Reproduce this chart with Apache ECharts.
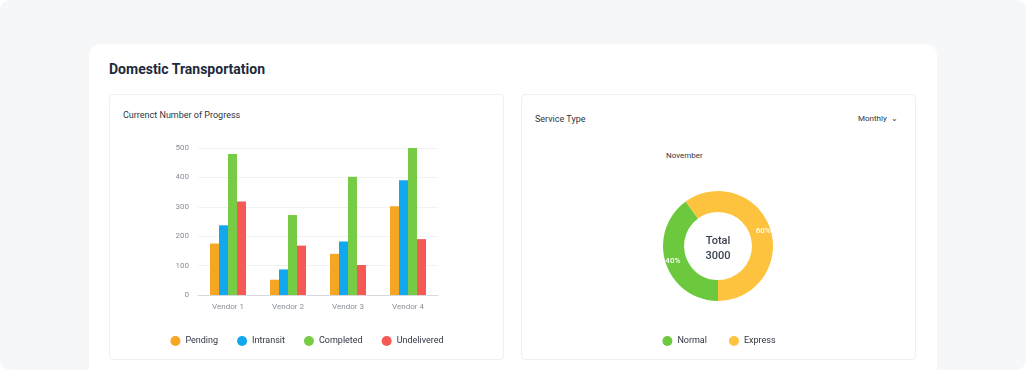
<!DOCTYPE html>
<html>
<head>
<meta charset="utf-8">
<script src="https://cdn.jsdelivr.net/npm/echarts@6/dist/echarts.min.js"></script>
<style>
  html,body{margin:0;padding:0;width:1026px;height:370px;overflow:hidden;background:#ffffff;font-family:Roboto,"Noto Sans",sans-serif;}
  #page{position:absolute;left:0;top:0;width:1026px;height:370px;background:#f6f7f9;border-radius:10px;}
  #card{position:absolute;left:89px;top:44px;width:848px;height:340px;background:#fff;border-radius:12px;}
  .panel{position:absolute;top:94px;width:395px;height:266px;background:#fff;border:1px solid #eef0f3;border-radius:4px;box-sizing:border-box;}
  .txt{position:absolute;white-space:nowrap;}
  #title{left:109px;top:61px;font-size:14px;font-weight:700;color:#1e2a3b;}
  #barTitle{left:123px;top:110px;font-size:9px;color:#2f3542;}
  #pieTitle{left:535px;top:114px;font-size:9px;color:#2f3542;}
  #monthly{left:858px;top:114px;font-size:8px;color:#2f3542;}
  #nov{left:666px;top:151px;font-size:8px;color:#2f3542;}
  #barChart{position:absolute;left:109px;top:94px;width:396px;height:266px;}
  #pieChart{position:absolute;left:521px;top:94px;width:396px;height:266px;}
</style>
</head>
<body>
<div id="page"></div>
<div id="card"></div>
<div class="panel" style="left:109px"></div>
<div class="panel" style="left:521px"></div>
<div class="txt" id="title">Domestic Transportation</div>
<div class="txt" id="barTitle">Currenct Number of Progress</div>
<div class="txt" id="pieTitle">Service Type</div>
<div class="txt" id="monthly">Monthly &nbsp;⌄</div>
<div class="txt" id="nov">November</div>
<div id="barChart"></div>
<div id="pieChart"></div>
<script>
const vendors = ['Vendor 1', 'Vendor 2', 'Vendor 3', 'Vendor 4'];
const pending = [175, 52, 140, 302];
const intransit = [237, 87, 182, 390];
const completed = [480, 272, 402, 500];
const undelivered = [318, 168, 102, 190];
const serviceTypes = ['Normal', 'Express'];
const serviceValues = [1200, 1800];
const serviceTotal = 3000;

const barColors = ['#f6a623', '#12a8ef', '#78cc45', '#f65854'];
const pieColors = ['#6cc93e', '#fdc33f'];

const bar = echarts.init(document.getElementById('barChart'), null, {renderer: 'canvas'});
const mk = (name, data) => ({name, type: 'bar', data, barGap: '0%', barCategoryGap: '40%'});
bar.setOption({
  animation: false,
  color: barColors,
  textStyle: {fontFamily: 'Roboto'},
  grid: {left: 89, top: 54, width: 240, height: 147, containLabel: false},
  legend: {
    bottom: 9, left: 'center', icon: 'circle', itemWidth: 10, itemHeight: 10, itemGap: 19,
    textStyle: {fontSize: 9, color: '#2f3542', fontFamily: 'Roboto'},
    data: ['Pending', 'Intransit', 'Completed', 'Undelivered']
  },
  xAxis: {
    type: 'category', data: vendors,
    axisLine: {lineStyle: {color: '#d6d9de'}},
    axisTick: {show: false},
    axisLabel: {fontSize: 8, color: '#8a8f99', margin: 8}
  },
  yAxis: {
    type: 'value', min: 0, max: 500, interval: 100,
    axisLine: {show: false}, axisTick: {show: false},
    axisLabel: {fontSize: 8, color: '#8a8f99', margin: 9},
    splitLine: {lineStyle: {color: '#f1f2f4'}}
  },
  series: [mk('Pending', pending), mk('Intransit', intransit), mk('Completed', completed), mk('Undelivered', undelivered)]
});

const pie = echarts.init(document.getElementById('pieChart'), null, {renderer: 'canvas'});
pie.setOption({
  animation: false,
  color: pieColors,
  textStyle: {fontFamily: 'Roboto'},
  legend: {
    bottom: 9, left: 'center', icon: 'circle', itemWidth: 10, itemHeight: 10, itemGap: 22,
    textStyle: {fontSize: 9, color: '#2f3542', fontFamily: 'Roboto'},
    data: serviceTypes
  },
  graphic: [{
    type: 'text', left: 197 - 20, top: 152 - 12,
    style: {text: 'Total\n' + serviceTotal, fill: '#3a4150', font: '500 11px Roboto', textAlign: 'center', lineHeight: 15, width: 40}
  }],
  series: [{
    type: 'pie', center: [197, 152], radius: [34, 55], startAngle: 270,
    clockwise: true,
    label: {position: 'inside', formatter: '{d}%', color: '#fff', fontSize: 8, fontWeight: 500},
    labelLine: {show: false},
    data: serviceTypes.map((n, i) => ({name: n, value: serviceValues[i]}))
  }]
});
</script>
</body>
</html>
